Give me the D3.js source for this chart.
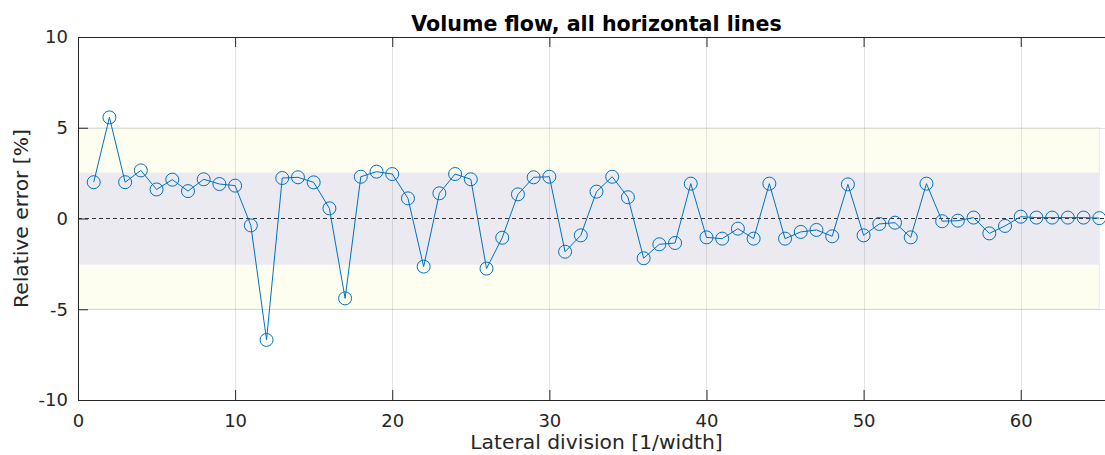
<!DOCTYPE html>
<html>
<head>
<meta charset="utf-8">
<script src="https://cdn.jsdelivr.net/npm/d3@7"></script>
<style>
  html, body { margin: 0; padding: 0; background: #fff; }
  svg { display: block; font-family: "DejaVu Sans", sans-serif; }
</style>
</head>
<body>
<svg id="chart" width="1105" height="455"></svg>
<script>
// Lateral division index and relative volume-flow error per division (%)
const divisions = d3.range(1, 66);
const relError = [
  2.0, 5.57, 2.0, 2.65, 1.6, 2.14, 1.51, 2.16, 1.9, 1.81,
  -0.38, -6.69, 2.23, 2.27, 1.99, 0.56, -4.4, 2.3, 2.58, 2.45,
  1.11, -2.65, 1.39, 2.45, 2.16, -2.76, -1.06, 1.33, 2.27, 2.3,
  -1.83, -0.93, 1.48, 2.3, 1.17, -2.19, -1.42, -1.35, 1.92, -1.04,
  -1.11, -0.56, -1.11, 1.92, -1.11, -0.74, -0.63, -0.98, 1.88, -0.93,
  -0.3, -0.23, -1.04, 1.92, -0.15, -0.12, 0.05, -0.82, -0.41, 0.1,
  0.05, 0.05, 0.05, 0.05, 0.02
];
const xTicks = [0, 10, 20, 30, 40, 50, 60];
const yTicks = [-10, -5, 0, 5, 10];
// tolerance bands: [low, high, fill]
const bandLows  = [-5, -2.5, 2.5];
const bandHighs = [-2.5, 2.5, 5];
const bandFills = ["#fefef0", "#ebeaf0", "#fefef0"];

const svg = d3.select("#chart");
const axL = 78, axR = 1115, axT = 37, axB = 400;

const x = d3.scaleLinear().domain([0, 66]).range([axL, axR]);
const y = d3.scaleLinear().domain([-10, 10]).range([axB, axT]);

const plot = svg.append("g");
plot.append("clipPath").attr("id", "clip")
  .append("rect").attr("x", axL).attr("y", axT)
  .attr("width", axR - axL).attr("height", axB - axT);

// shaded bands
plot.selectAll("rect.band")
  .data(bandLows.map((lo, i) => ({lo, hi: bandHighs[i], fill: bandFills[i]})))
  .join("rect")
  .attr("class", "band")
  .attr("x", x(0))
  .attr("width", x(65) - x(0))
  .attr("y", d => y(d.hi))
  .attr("height", d => y(d.lo) - y(d.hi))
  .attr("fill", d => d.fill)
  .attr("stroke", "#ece8f4")
  .attr("stroke-width", 1);

// grid
const grid = plot.append("g").attr("clip-path", "url(#clip)")
  .attr("stroke", "#262626").attr("stroke-opacity", 0.13).attr("stroke-width", 1);
grid.selectAll("line.gx").data(xTicks).join("line")
  .attr("x1", d => Math.round(x(d)) + 0.5).attr("x2", d => Math.round(x(d)) + 0.5)
  .attr("y1", axT).attr("y2", axB);
grid.selectAll("line.gy").data(yTicks.filter(v => v !== 0)).join("line")
  .attr("y1", d => Math.round(y(d)) + 0.5).attr("y2", d => Math.round(y(d)) + 0.5)
  .attr("x1", axL).attr("x2", axR);

// zero reference
plot.append("line")
  .attr("x1", axL).attr("x2", axR)
  .attr("y1", y(0)).attr("y2", y(0))
  .attr("stroke", "#333").attr("stroke-width", 1)
  .attr("stroke-dasharray", "4,3");

// axes with inward ticks; plain hyphen for negative labels
const tickLen = 10;
const axisColor = "#262626";
const fmt = d => String(d);
const xAxis = d3.axisBottom(x).tickValues(xTicks).tickFormat(fmt).tickSizeInner(-tickLen).tickSizeOuter(0).tickPadding(14);
const yAxis = d3.axisLeft(y).tickValues(yTicks).tickFormat(fmt).tickSizeInner(-tickLen).tickSizeOuter(0).tickPadding(10);
const xTop = d3.axisTop(x).tickValues(xTicks).tickSizeInner(-tickLen).tickSizeOuter(0).tickFormat("");

function styleAxis(g) {
  g.select(".domain").attr("stroke", axisColor).attr("stroke-width", 1);
  g.selectAll(".tick line").attr("stroke", axisColor).attr("stroke-width", 1);
  g.selectAll(".tick text").attr("fill", axisColor)
    .style("font-size", "18px").style("font-family", "DejaVu Sans, sans-serif");
}
svg.append("g").attr("transform", `translate(0,${axB})`).call(xAxis).call(styleAxis);
svg.append("g").attr("transform", `translate(${axL},0)`).call(yAxis).call(styleAxis);
svg.append("g").attr("transform", `translate(0,${axT})`).call(xTop).call(styleAxis);

// data line and markers
const color = "#0072bd";
const pts = divisions.map((d, i) => [d, relError[i]]);
plot.append("path")
  .datum(pts)
  .attr("fill", "none")
  .attr("stroke", color)
  .attr("stroke-width", 1)
  .attr("d", d3.line().x(d => x(d[0])).y(d => y(d[1])));
plot.selectAll("circle.pt").data(pts).join("circle")
  .attr("class", "pt")
  .attr("cx", d => x(d[0])).attr("cy", d => y(d[1]))
  .attr("r", 6.5)
  .attr("fill", "none")
  .attr("stroke", color)
  .attr("stroke-width", 1);

// labels
svg.append("text")
  .attr("x", (axL + axR) / 2).attr("y", 31)
  .attr("text-anchor", "middle")
  .style("font-size", "20.6px").style("font-weight", "bold")
  .attr("fill", "#000")
  .text("Volume flow, all horizontal lines");
svg.append("text")
  .attr("x", (axL + axR) / 2).attr("y", 449)
  .attr("text-anchor", "middle")
  .style("font-size", "20.3px")
  .attr("fill", axisColor)
  .text("Lateral division [1/width]");
svg.append("text")
  .attr("transform", `translate(28,${(axT + axB) / 2}) rotate(-90)`)
  .attr("text-anchor", "middle")
  .style("font-size", "20.3px")
  .attr("fill", axisColor)
  .text("Relative error [%]");
</script>
</body>
</html>
